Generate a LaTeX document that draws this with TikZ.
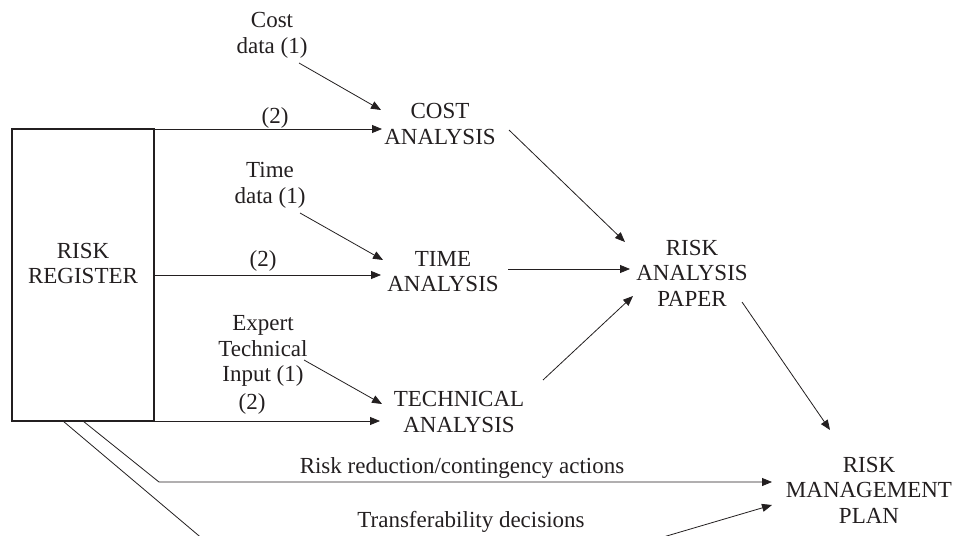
\documentclass[tikz,border=0pt]{standalone}
\usepackage{fontspec}
\setmainfont{Liberation Serif}
\usetikzlibrary{arrows.meta}
\definecolor{ink}{RGB}{35,31,32}
\begin{document}
\begin{tikzpicture}[x=1pt,y=-1pt,
  txt/.style={font=\fontsize{23}{25.5}\selectfont, align=center, inner sep=0pt, outer sep=0pt, text=ink},
  regbox/.style={draw=ink, line width=1.4pt, minimum width=142pt, minimum height=292pt, inner sep=0pt, outer sep=0pt},
  arr/.style={draw=ink, line width=0.8pt, -{Triangle[length=10pt,width=8pt]}},
  ln/.style={draw=ink, line width=0.8pt}]
\useasboundingbox (0,0) rectangle (957,535);
\clip (0,0) rectangle (957,535);
\fill[white] (0,0) rectangle (957,535);

% nodes
\node[regbox] (reg) at (83,275) {};
\draw[ink, line width=2.6pt] (reg.south west) -- (reg.north west);
\node[txt] (regtext) at (83,263.5) {RISK\\REGISTER};

\node[txt] (costdata) at (272,35.4) {Cost\\data (1)};
\node[txt] (cost) at (440,124) {COST\\ANALYSIS};
\node[txt] (timedata) at (270,185.5) {Time\\data (1)};
\node[txt] (time) at (443,271.5) {TIME\\ANALYSIS};
\node[txt] (techdata) at (263,351) {Expert\\Technical\\Input (1)};
\node[txt] (tech) at (459,412) {TECHNICAL\\ANALYSIS};
\node[txt] (paper) at (692,273) {RISK\\ANALYSIS\\PAPER};
\node[txt] (plan) at (869,490) {RISK\\MANAGEMENT\\PLAN};

\node[txt] (l2a) at (275,118) {(2)};
\node[txt] (l2b) at (263,261) {(2)};
\node[txt] (l2c) at (252,404) {(2)};
\node[txt] (rr) at (462,468) {Risk reduction/contingency actions};
\node[txt] (tr) at (471,522) {Transferability decisions};

\coordinate (rrbend) at (159,482);
\coordinate (trbend) at (320,638);

% connectors
\draw[arr] ([shift={(27,27.6)}]costdata.center) -- ([shift={(-59,-14)}]cost.center);
\draw[arr] (reg.north east) -- ([shift={(-58,5)}]cost.center);
\draw[arr] ([shift={(30,27.5)}]timedata.center) -- ([shift={(-60,-11.5)}]time.center);
\draw[arr] (reg.east) -- ([shift={(-62,3.5)}]time.center);
\draw[arr] ([shift={(41,9)}]techdata.center) -- ([shift={(-77,-8)}]tech.center);
\draw[arr] (reg.south east) -- ([shift={(-79,9)}]tech.center);

\draw[arr] ([shift={(69,6)}]cost.center) -- ([shift={(-67,-31)}]paper.center);
\draw[arr] ([shift={(65,-2.5)}]time.center) -- ([shift={(-62,-4)}]paper.center);
\draw[arr] ([shift={(84,-32)}]tech.center) -- ([shift={(-59,23)}]paper.center);
\draw[arr] ([shift={(50,29)}]paper.center) -- ([shift={(-39,-60)}]plan.center);

\draw[arr] (reg.south) -- (rrbend) -- ([shift={(-97,-8)}]plan.center);
\draw[arr] ([xshift=-20pt]reg.south) -- (trbend) -- ([shift={(-97,15)}]plan.center);
\end{tikzpicture}
\end{document}
